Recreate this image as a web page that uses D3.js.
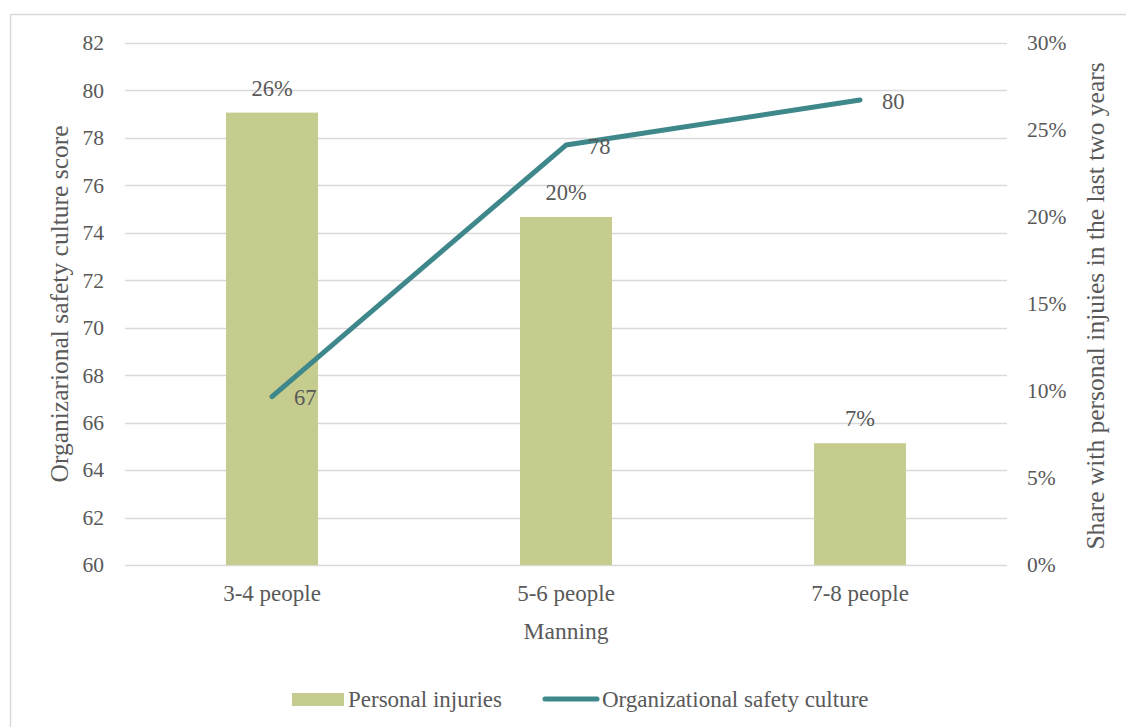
<!DOCTYPE html>
<html>
<head>
<meta charset="UTF-8">
<title>Manning vs safety culture</title>
<script src="https://d3js.org/d3.v7.min.js"></script>
<style>
  body { margin: 0; background: #fff; }
</style>
</head>
<body>
<div id="chart"></div>
<script>
// data
var categories = ["3-4 people", "5-6 people", "7-8 people"];
var injuries = [0.26, 0.20, 0.07];          // right axis, bars
var safetyCulture = [67.1, 77.7, 79.6];     // left axis, line
var cultureLabels = ["67", "78", "80"];
var leftTicks = [60, 62, 64, 66, 68, 70, 72, 74, 76, 78, 80, 82];
var rightTicks = [0, 0.05, 0.10, 0.15, 0.20, 0.25, 0.30];

var width = 1126, height = 727;
var plot = {left: 125, right: 1007, top: 43, bottom: 565};
var barColor = "#c5cc8e", lineColor = "#3e878b", gridColor = "#d9d9d9";
var fontFamily = "'Liberation Serif', 'DejaVu Serif', serif";

var svg = d3.select("#chart").append("svg")
    .attr("width", width)
    .attr("height", height);

// outer frame
svg.append("rect")
    .attr("x", 10.5).attr("y", 14.5)
    .attr("width", 1140).attr("height", 740)
    .attr("fill", "none")
    .attr("stroke", gridColor)
    .attr("stroke-width", 1.5);

var x = d3.scaleBand()
    .domain(categories)
    .range([plot.left, plot.right])
    .paddingInner(0.687)
    .paddingOuter(0.3435);

var yLeft = d3.scaleLinear().domain([60, 82]).range([plot.bottom, plot.top]);
var yRight = d3.scaleLinear().domain([0, 0.30]).range([plot.bottom, plot.top]);

function styleText(sel, size) {
    sel.style("font-family", fontFamily)
       .style("font-size", size + "px")
       .style("fill", "#595959");
}

// gridlines
svg.append("g").selectAll("line")
    .data(leftTicks)
    .enter().append("line")
    .attr("x1", plot.left).attr("x2", plot.right)
    .attr("y1", function(d) { return Math.round(yLeft(d)) + 0.5; })
    .attr("y2", function(d) { return Math.round(yLeft(d)) + 0.5; })
    .attr("stroke", gridColor)
    .attr("stroke-width", 1.5);

// left axis
var leftAxis = svg.append("g")
    .attr("transform", "translate(" + plot.left + ",0)")
    .call(d3.axisLeft(yLeft).tickValues(leftTicks).tickSize(0).tickPadding(21));
leftAxis.select(".domain").remove();
leftAxis.selectAll("text").call(styleText, 21.5);

// right axis
var rightAxis = svg.append("g")
    .attr("transform", "translate(" + plot.right + ",0)")
    .call(d3.axisRight(yRight).tickValues(rightTicks).tickSize(0).tickPadding(20)
        .tickFormat(d3.format(".0%")));
rightAxis.select(".domain").remove();
rightAxis.selectAll("text").call(styleText, 21.5);

// bars
svg.append("g").selectAll("rect")
    .data(categories)
    .enter().append("rect")
    .attr("x", function(d) { return x(d); })
    .attr("width", x.bandwidth())
    .attr("y", function(d, i) { return yRight(injuries[i]); })
    .attr("height", function(d, i) { return plot.bottom - yRight(injuries[i]); })
    .attr("fill", barColor);

// bar labels
svg.append("g").selectAll("text")
    .data(categories)
    .enter().append("text")
    .attr("x", function(d) { return x(d) + x.bandwidth() / 2; })
    .attr("y", function(d, i) { return yRight(injuries[i]) - 17; })
    .attr("text-anchor", "middle")
    .call(styleText, 22.5)
    .text(function(d, i) { return d3.format(".0%")(injuries[i]); });

// line
var line = d3.line()
    .x(function(d, i) { return x(categories[i]) + x.bandwidth() / 2; })
    .y(function(d) { return yLeft(d); });

svg.append("path")
    .datum(safetyCulture)
    .attr("d", line)
    .attr("fill", "none")
    .attr("stroke", lineColor)
    .attr("stroke-width", 5)
    .attr("stroke-linecap", "round")
    .attr("stroke-linejoin", "round");

// line labels (right of point)
svg.append("g").selectAll("text")
    .data(safetyCulture)
    .enter().append("text")
    .attr("x", function(d, i) { return x(categories[i]) + x.bandwidth() / 2 + 22; })
    .attr("y", function(d) { return yLeft(d) + 1; })
    .attr("dy", "0.35em")
    .call(styleText, 22.5)
    .text(function(d, i) { return cultureLabels[i]; });

// category labels
svg.append("g").selectAll("text")
    .data(categories)
    .enter().append("text")
    .attr("x", function(d) { return x(d) + x.bandwidth() / 2; })
    .attr("y", 601)
    .attr("text-anchor", "middle")
    .call(styleText, 23)
    .text(function(d) { return d; });

// axis titles
svg.append("text")
    .attr("x", (plot.left + plot.right) / 2)
    .attr("y", 639)
    .attr("text-anchor", "middle")
    .call(styleText, 23.5)
    .text("Manning");

svg.append("text")
    .attr("transform", "translate(68," + ((plot.top + plot.bottom) / 2) + ") rotate(-90)")
    .attr("text-anchor", "middle")
    .call(styleText, 25.5)
    .text("Organizarional safety culture score");

svg.append("text")
    .attr("transform", "translate(1104,306) rotate(-90)")
    .attr("text-anchor", "middle")
    .call(styleText, 25.5)
    .text("Share with personal injuies in the last two years");

// legend
var legend = svg.append("g");
legend.append("rect")
    .attr("x", 292).attr("y", 693)
    .attr("width", 52).attr("height", 13)
    .attr("fill", barColor);
legend.append("text")
    .attr("x", 348).attr("y", 699)
    .attr("dy", "0.35em")
    .call(styleText, 23)
    .text("Personal injuries");
legend.append("line")
    .attr("x1", 545).attr("x2", 597)
    .attr("y1", 699).attr("y2", 699)
    .attr("stroke", lineColor)
    .attr("stroke-width", 5)
    .attr("stroke-linecap", "round");
legend.append("text")
    .attr("x", 602).attr("y", 699)
    .attr("dy", "0.35em")
    .call(styleText, 23)
    .text("Organizational safety culture");
</script>
</body>
</html>
